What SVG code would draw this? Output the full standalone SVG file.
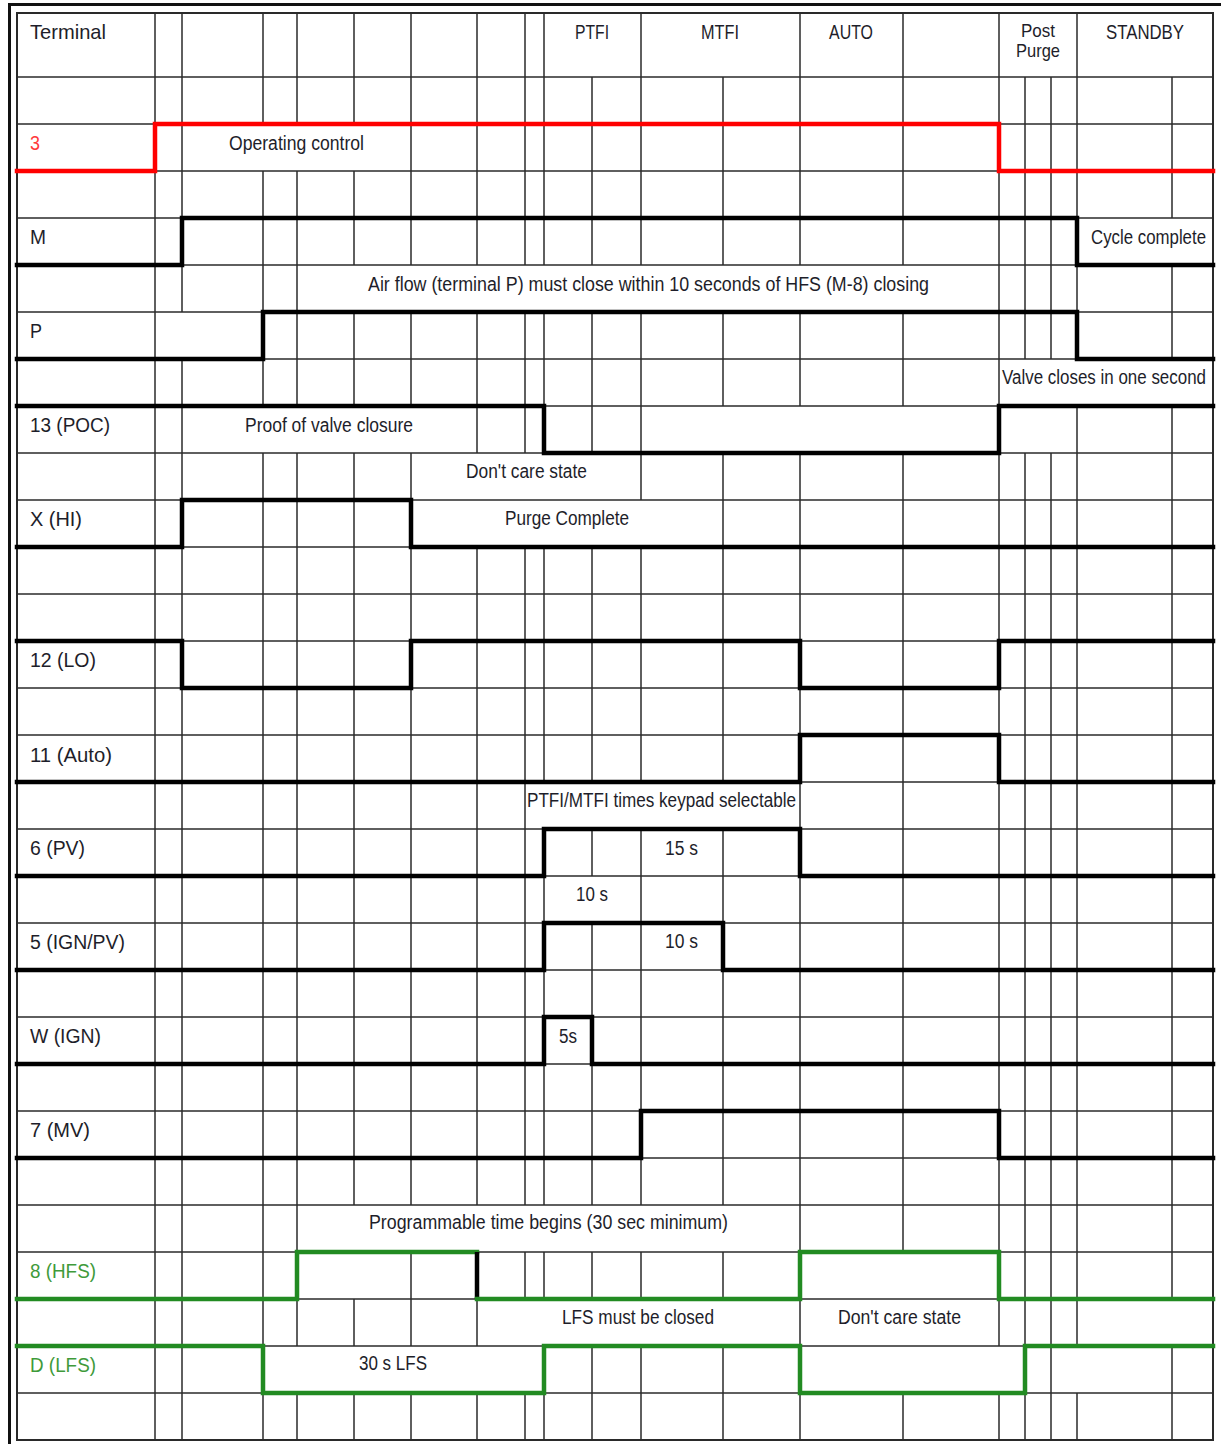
<svg xmlns="http://www.w3.org/2000/svg" width="1221" height="1444" viewBox="0 0 1221 1444">
<style>
.bg{fill:#fff}
.frame{stroke:#111;stroke-width:3;fill:none}
.grid line{stroke:#2a2a2a;stroke-width:1.5}
.border{fill:none;stroke:#2a2a2a;stroke-width:2}
.sig{fill:none;stroke:#000;stroke-width:4.5;stroke-linejoin:miter;stroke-linecap:square}
.red{stroke:#ff0000}
.grn{stroke:#228b22}
text{font-family:"Liberation Sans",Arial,sans-serif;font-size:20px;fill:#1e1e2a}
.hd{font-size:21px}
.pp{font-size:19px}
.tred{fill:#ff3b3b}
.tgrn{fill:#3f9a3a}
</style>
<rect class="bg" x="0" y="0" width="1221" height="1444"/>
<g id="frame">
<line class="frame" x1="9.5" y1="3" x2="9.5" y2="1444"/>
<line class="frame" x1="8" y1="4.5" x2="1221" y2="4.5"/>
</g>
<g id="grid" class="grid">
<rect class="border" x="17" y="13" width="1196" height="1427"/>
<line x1="17" y1="77" x2="1213" y2="77"/>
<line x1="17" y1="124" x2="1213" y2="124"/>
<line x1="17" y1="171" x2="1213" y2="171"/>
<line x1="17" y1="218" x2="1213" y2="218"/>
<line x1="17" y1="265" x2="1213" y2="265"/>
<line x1="17" y1="312" x2="1213" y2="312"/>
<line x1="17" y1="359" x2="1213" y2="359"/>
<line x1="17" y1="406" x2="1213" y2="406"/>
<line x1="17" y1="453" x2="1213" y2="453"/>
<line x1="17" y1="500" x2="1213" y2="500"/>
<line x1="17" y1="547" x2="1213" y2="547"/>
<line x1="17" y1="594" x2="1213" y2="594"/>
<line x1="17" y1="641" x2="1213" y2="641"/>
<line x1="17" y1="688" x2="1213" y2="688"/>
<line x1="17" y1="735" x2="1213" y2="735"/>
<line x1="17" y1="782" x2="1213" y2="782"/>
<line x1="17" y1="829" x2="1213" y2="829"/>
<line x1="17" y1="876" x2="1213" y2="876"/>
<line x1="17" y1="923" x2="1213" y2="923"/>
<line x1="17" y1="970" x2="1213" y2="970"/>
<line x1="17" y1="1017" x2="1213" y2="1017"/>
<line x1="17" y1="1064" x2="1213" y2="1064"/>
<line x1="17" y1="1111" x2="1213" y2="1111"/>
<line x1="17" y1="1158" x2="1213" y2="1158"/>
<line x1="17" y1="1205" x2="1213" y2="1205"/>
<line x1="17" y1="1252" x2="1213" y2="1252"/>
<line x1="17" y1="1299" x2="1213" y2="1299"/>
<line x1="17" y1="1346" x2="1213" y2="1346"/>
<line x1="17" y1="1393" x2="1213" y2="1393"/>
<!-- verticals -->
<line x1="155" y1="13" x2="155" y2="1440"/>
<line x1="182" y1="13" x2="182" y2="312"/><line x1="182" y1="359" x2="182" y2="1440"/>
<line x1="263" y1="13" x2="263" y2="124"/><line x1="263" y1="171" x2="263" y2="406"/><line x1="263" y1="453" x2="263" y2="1440"/>
<line x1="297" y1="13" x2="297" y2="124"/><line x1="297" y1="171" x2="297" y2="406"/><line x1="297" y1="453" x2="297" y2="1346"/><line x1="297" y1="1393" x2="297" y2="1440"/>
<line x1="354" y1="13" x2="354" y2="124"/><line x1="354" y1="171" x2="354" y2="265"/><line x1="354" y1="312" x2="354" y2="406"/><line x1="354" y1="453" x2="354" y2="1205"/><line x1="354" y1="1299" x2="354" y2="1346"/><line x1="354" y1="1393" x2="354" y2="1440"/>
<line x1="411" y1="13" x2="411" y2="265"/><line x1="411" y1="312" x2="411" y2="406"/><line x1="411" y1="453" x2="411" y2="1205"/><line x1="411" y1="1252" x2="411" y2="1346"/><line x1="411" y1="1393" x2="411" y2="1440"/>
<line x1="477" y1="13" x2="477" y2="265"/><line x1="477" y1="312" x2="477" y2="453"/><line x1="477" y1="547" x2="477" y2="1205"/><line x1="477" y1="1252" x2="477" y2="1346"/><line x1="477" y1="1393" x2="477" y2="1440"/>
<line x1="525" y1="13" x2="525" y2="265"/><line x1="525" y1="312" x2="525" y2="453"/><line x1="525" y1="547" x2="525" y2="1205"/><line x1="525" y1="1252" x2="525" y2="1299"/><line x1="525" y1="1393" x2="525" y2="1440"/>
<line x1="544" y1="13" x2="544" y2="265"/><line x1="544" y1="312" x2="544" y2="453"/><line x1="544" y1="547" x2="544" y2="782"/><line x1="544" y1="829" x2="544" y2="1205"/><line x1="544" y1="1252" x2="544" y2="1299"/><line x1="544" y1="1346" x2="544" y2="1440"/>
<line x1="592" y1="77" x2="592" y2="265"/><line x1="592" y1="312" x2="592" y2="453"/><line x1="592" y1="547" x2="592" y2="782"/><line x1="592" y1="829" x2="592" y2="876"/><line x1="592" y1="923" x2="592" y2="1205"/><line x1="592" y1="1252" x2="592" y2="1299"/><line x1="592" y1="1346" x2="592" y2="1440"/>
<line x1="641" y1="13" x2="641" y2="265"/><line x1="641" y1="312" x2="641" y2="500"/><line x1="641" y1="547" x2="641" y2="782"/><line x1="641" y1="829" x2="641" y2="1205"/><line x1="641" y1="1252" x2="641" y2="1299"/><line x1="641" y1="1346" x2="641" y2="1440"/>
<line x1="723" y1="77" x2="723" y2="265"/><line x1="723" y1="312" x2="723" y2="406"/><line x1="723" y1="453" x2="723" y2="782"/><line x1="723" y1="829" x2="723" y2="1205"/><line x1="723" y1="1252" x2="723" y2="1299"/><line x1="723" y1="1346" x2="723" y2="1440"/>
<line x1="800" y1="13" x2="800" y2="265"/><line x1="800" y1="312" x2="800" y2="406"/><line x1="800" y1="453" x2="800" y2="1440"/>
<line x1="903" y1="13" x2="903" y2="265"/><line x1="903" y1="312" x2="903" y2="406"/><line x1="903" y1="453" x2="903" y2="1252"/><line x1="903" y1="1393" x2="903" y2="1440"/>
<line x1="999" y1="13" x2="999" y2="1346"/><line x1="999" y1="1393" x2="999" y2="1440"/>
<line x1="1025" y1="77" x2="1025" y2="359"/><line x1="1025" y1="453" x2="1025" y2="1440"/>
<line x1="1051" y1="77" x2="1051" y2="359"/><line x1="1051" y1="453" x2="1051" y2="1440"/>
<line x1="1077" y1="13" x2="1077" y2="359"/><line x1="1077" y1="406" x2="1077" y2="1346"/><line x1="1077" y1="1393" x2="1077" y2="1440"/>
<line x1="1172" y1="77" x2="1172" y2="218"/><line x1="1172" y1="265" x2="1172" y2="359"/><line x1="1172" y1="406" x2="1172" y2="1299"/><line x1="1172" y1="1346" x2="1172" y2="1440"/>
</g>
<g id="header">
<text class="hd" x="30" y="39" textLength="76" lengthAdjust="spacingAndGlyphs">Terminal</text>
<text class="hd" x="575" y="39" textLength="34" lengthAdjust="spacingAndGlyphs">PTFI</text>
<text class="hd" x="701" y="39" textLength="38" lengthAdjust="spacingAndGlyphs">MTFI</text>
<text class="hd" x="829" y="39" textLength="44" lengthAdjust="spacingAndGlyphs">AUTO</text>
<text class="pp" x="1021" y="37" textLength="34" lengthAdjust="spacingAndGlyphs">Post</text>
<text class="pp" x="1016" y="57" textLength="44" lengthAdjust="spacingAndGlyphs">Purge</text>
<text class="hd" x="1106" y="39" textLength="78" lengthAdjust="spacingAndGlyphs">STANDBY</text>
</g>
<g id="connectors">
<polyline id="w-3" class="sig red" points="17,171 155,171 155,124 999,124 999,171 1213,171"/>
<polyline id="w-M" class="sig" points="17,265 182,265 182,218 1077,218 1077,265 1213,265"/>
<polyline id="w-P" class="sig" points="17,359 263,359 263,312 1077,312 1077,359 1213,359"/>
<polyline id="w-13" class="sig" points="17,406 544,406 544,453 999,453 999,406 1213,406"/>
<polyline id="w-X" class="sig" points="17,547 182,547 182,500 411,500 411,547 1213,547"/>
<polyline id="w-12" class="sig" points="17,641 182,641 182,688 411,688 411,641 800,641 800,688 999,688 999,641 1213,641"/>
<polyline id="w-11" class="sig" points="17,782 800,782 800,735 999,735 999,782 1213,782"/>
<polyline id="w-6" class="sig" points="17,876 544,876 544,829 800,829 800,876 1213,876"/>
<polyline id="w-5" class="sig" points="17,970 544,970 544,923 723,923 723,970 1213,970"/>
<polyline id="w-W" class="sig" points="17,1064 544,1064 544,1017 592,1017 592,1064 1213,1064"/>
<polyline id="w-7" class="sig" points="17,1158 641,1158 641,1111 999,1111 999,1158 1213,1158"/>
<polyline id="w-8a" class="sig grn" points="17,1299 297,1299 297,1252 477,1252"/>
<line id="w-8b" class="sig" x1="477" y1="1252" x2="477" y2="1299" style="stroke-linecap:butt"/>
<polyline id="w-8c" class="sig grn" points="477,1299 800,1299 800,1252 999,1252 999,1299 1213,1299"/>
<polyline id="w-D" class="sig grn" points="17,1346 263,1346 263,1393 544,1393 544,1346 800,1346 800,1393 1025,1393 1025,1346 1213,1346"/>
</g>
<g id="node-3">
<text class="tred" x="30" y="150" textLength="10" lengthAdjust="spacingAndGlyphs">3</text>
<text x="229" y="150" textLength="135" lengthAdjust="spacingAndGlyphs">Operating control</text>
</g>
<g id="node-M">
<text x="30" y="244" textLength="16" lengthAdjust="spacingAndGlyphs">M</text>
<text x="1091" y="244" textLength="115" lengthAdjust="spacingAndGlyphs">Cycle complete</text>
</g>
<g id="note-airflow">
<text x="368" y="291" textLength="561" lengthAdjust="spacingAndGlyphs">Air flow (terminal P) must close within 10 seconds of HFS (M-8) closing</text>
</g>
<g id="node-P">
<text x="30" y="338" textLength="12" lengthAdjust="spacingAndGlyphs">P</text>
</g>
<g id="note-valve">
<text x="1002" y="384" textLength="204" lengthAdjust="spacingAndGlyphs">Valve closes in one second</text>
</g>
<g id="node-13">
<text x="30" y="432" textLength="80" lengthAdjust="spacingAndGlyphs">13 (POC)</text>
<text x="245" y="432" textLength="168" lengthAdjust="spacingAndGlyphs">Proof of valve closure</text>
<text x="466" y="478" textLength="121" lengthAdjust="spacingAndGlyphs">Don't care state</text>
</g>
<g id="node-X">
<text x="30" y="526" textLength="52" lengthAdjust="spacingAndGlyphs">X (HI)</text>
<text x="505" y="525" textLength="124" lengthAdjust="spacingAndGlyphs">Purge Complete</text>
</g>
<g id="node-12">
<text x="30" y="667" textLength="66" lengthAdjust="spacingAndGlyphs">12 (LO)</text>
</g>
<g id="node-11">
<text x="30" y="762" textLength="82" lengthAdjust="spacingAndGlyphs">11 (Auto)</text>
</g>
<g id="note-ptfi">
<text x="527" y="807" textLength="269" lengthAdjust="spacingAndGlyphs">PTFI/MTFI times keypad selectable</text>
</g>
<g id="node-6">
<text x="30" y="855" textLength="55" lengthAdjust="spacingAndGlyphs">6 (PV)</text>
<text x="665" y="855" textLength="33" lengthAdjust="spacingAndGlyphs">15 s</text>
<text x="576" y="901" textLength="32" lengthAdjust="spacingAndGlyphs">10 s</text>
</g>
<g id="node-5">
<text x="30" y="949" textLength="95" lengthAdjust="spacingAndGlyphs">5 (IGN/PV)</text>
<text x="665" y="948" textLength="33" lengthAdjust="spacingAndGlyphs">10 s</text>
</g>
<g id="node-W">
<text x="30" y="1043" textLength="71" lengthAdjust="spacingAndGlyphs">W (IGN)</text>
<text x="559" y="1043" textLength="18" lengthAdjust="spacingAndGlyphs">5s</text>
</g>
<g id="node-7">
<text x="30" y="1137" textLength="60" lengthAdjust="spacingAndGlyphs">7 (MV)</text>
</g>
<g id="note-prog">
<text x="369" y="1229" textLength="359" lengthAdjust="spacingAndGlyphs">Programmable time begins (30 sec minimum)</text>
</g>
<g id="node-8">
<text class="tgrn" x="30" y="1278" textLength="66" lengthAdjust="spacingAndGlyphs">8 (HFS)</text>
<text x="562" y="1324" textLength="152" lengthAdjust="spacingAndGlyphs">LFS must be closed</text>
<text x="838" y="1324" textLength="123" lengthAdjust="spacingAndGlyphs">Don't care state</text>
</g>
<g id="node-D">
<text class="tgrn" x="30" y="1372" textLength="66" lengthAdjust="spacingAndGlyphs">D (LFS)</text>
<text x="359" y="1370" textLength="68" lengthAdjust="spacingAndGlyphs">30 s LFS</text>
</g>
</svg>
